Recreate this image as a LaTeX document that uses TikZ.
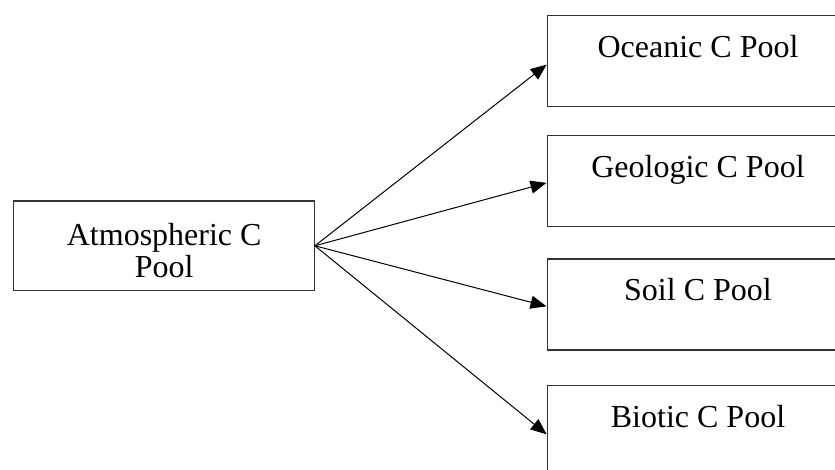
\documentclass[tikz,border=0pt]{standalone}
\usepackage{fontspec}
\setmainfont{Liberation Serif}
\usetikzlibrary{arrows.meta}
\begin{document}
\begin{tikzpicture}[x=1pt,y=1pt,
  box/.style={draw=black!80, line width=1.2pt, rectangle, inner sep=0pt},
  pooltext/.style={font=\fontsize{32}{32.5}\selectfont, inner sep=0pt, anchor=base},
  flow/.style={line width=1pt, -{Triangle[length=16pt,width=13pt]}, shorten >=0.6pt}]
\useasboundingbox (0,0) rectangle (835,470);
\clip (0,0) rectangle (835,470);
% left box
\node[box, minimum width=301pt, minimum height=89.7pt] (atm) at (163.8,224.2) {};
\node[pooltext, align=center, anchor=center] (atmt) at (164.2,219.5) {Atmospheric C\\Pool};
% right boxes
\node[box, minimum width=300.6pt, minimum height=91pt] (oce) at (698,408.8) {};
\node[box, minimum width=300.6pt, minimum height=91pt] (geo) at (698,288.8) {};
\node[box, minimum width=300.6pt, minimum height=91pt] (soil) at (698,165.5) {};
\node[box, minimum width=300.6pt, minimum height=91pt] (bio) at (698,38.8) {};
\node[pooltext] (ocet) at ([yshift=-42.5pt]oce.north) {Oceanic C Pool};
\node[pooltext] (geot) at ([yshift=-42.5pt]geo.north) {Geologic C Pool};
\node[pooltext] (soilt) at ([yshift=-42.5pt]soil.north) {Soil C Pool};
\node[pooltext] (biot) at ([yshift=-42.5pt]bio.north) {Biotic C Pool};
% arrows
\draw[flow] (atm.east) -- ([yshift=-3pt]oce.west);
\draw[flow] (atm.east) -- ([yshift=-1.5pt]geo.west);
\draw[flow] (atm.east) -- ([yshift=-2pt]soil.west);
\draw[flow] (atm.east) -- ([yshift=-3.5pt]bio.west);
\end{tikzpicture}
\end{document}
